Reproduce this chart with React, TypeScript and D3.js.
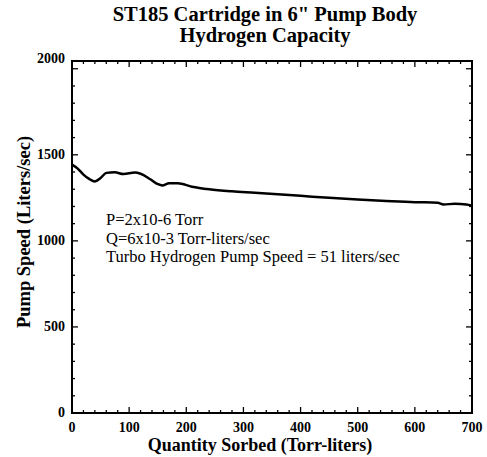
import React, { useEffect, useRef } from 'react';
import * as d3 from 'd3';

// Pump speed curve
const sorbed = [0, 10, 20, 30, 40, 50, 60, 75, 90, 110, 120, 137, 150, 158, 170, 185, 210, 240, 280, 320, 400, 450, 500, 550, 600, 640, 650, 670, 690, 700];
const speed = [1443, 1420, 1385, 1360, 1345, 1365, 1395, 1398, 1388, 1397, 1390, 1358, 1330, 1322, 1335, 1335, 1315, 1300, 1288, 1280, 1262, 1250, 1240, 1232, 1225, 1222, 1212, 1215, 1212, 1205];

const xTicks = [0, 100, 200, 300, 400, 500, 600, 700];
const yTicks = [0, 500, 1000, 1500, 2000];
const titleLines = ['ST185 Cartridge in 6" Pump Body', 'Hydrogen Capacity'];
const notes = ['P=2x10-6 Torr', 'Q=6x10-3 Torr-liters/sec', 'Turbo Hydrogen Pump Speed = 51 liters/sec'];

const W = 487;
const H = 457;
const serif = '"Liberation Serif", "DejaVu Serif", serif';

const App: React.FC = () => {
  const svgRef = useRef<SVGSVGElement>(null);

  useEffect(() => {
    if (!svgRef.current) return;
    const svg = d3.select(svgRef.current);
    svg.selectAll('*').remove();

    const left = 72, right = 472, top = 61, bottom = 413;

    const x = d3.scaleLinear().domain([0, 700]).range([left, right]);
    const y = d3.scaleLinear().domain([0, 2045]).range([bottom, top]);

    svg.append('rect').attr('width', W).attr('height', H).attr('fill', '#fff');

    // title
    svg.append('g').selectAll('text').data(titleLines).join('text')
      .attr('x', 265).attr('y', (_, i) => 21 + i * 21)
      .attr('text-anchor', 'middle')
      .attr('font-family', serif).attr('font-weight', 'bold').attr('font-size', 20.5)
      .text(d => d);

    // minor ticks (inward, on all four sides)
    const xMinor = d3.range(0, 701, 20);
    const yMinor = d3.range(0, 2001, 100);
    const tk = svg.append('g').attr('stroke', '#000').attr('stroke-width', 1.3);
    xMinor.forEach(v => {
      const len = v % 100 === 0 ? 6 : 3;
      tk.append('line').attr('x1', x(v)).attr('x2', x(v)).attr('y1', bottom).attr('y2', bottom - len);
      tk.append('line').attr('x1', x(v)).attr('x2', x(v)).attr('y1', top).attr('y2', top + len);
    });
    yMinor.forEach(v => {
      const len = v % 500 === 0 ? 6 : 3;
      tk.append('line').attr('y1', y(v)).attr('y2', y(v)).attr('x1', left).attr('x2', left + len);
      tk.append('line').attr('y1', y(v)).attr('y2', y(v)).attr('x1', right).attr('x2', right - len);
    });

    // frame
    svg.append('rect')
      .attr('x', left).attr('y', top).attr('width', right - left).attr('height', bottom - top)
      .attr('fill', 'none').attr('stroke', '#000').attr('stroke-width', 2);

    // tick labels
    svg.append('g').selectAll('text').data(xTicks).join('text')
      .attr('x', d => x(d)).attr('y', 432)
      .attr('text-anchor', 'middle')
      .attr('font-family', serif).attr('font-weight', 'bold').attr('font-size', 14)
      .text(d => d);

    svg.append('g').selectAll('text').data(yTicks).join('text')
      .attr('x', 65).attr('y', d => (d === 2000 ? 63 : y(d) + 4))
      .attr('text-anchor', 'end')
      .attr('font-family', serif).attr('font-weight', 'bold').attr('font-size', 14)
      .text(d => d);

    // axis titles
    svg.append('text')
      .attr('x', 260).attr('y', 451)
      .attr('text-anchor', 'middle')
      .attr('font-family', serif).attr('font-weight', 'bold').attr('font-size', 18)
      .text('Quantity Sorbed (Torr-liters)');

    svg.append('text')
      .attr('transform', `translate(30,232) rotate(-90)`)
      .attr('text-anchor', 'middle')
      .attr('font-family', serif).attr('font-weight', 'bold').attr('font-size', 18.5)
      .text('Pump Speed  (Liters/sec)');

    // curve
    const pts = sorbed.map((s, i) => [s, speed[i]] as [number, number]);
    const line = d3.line<[number, number]>()
      .x(d => x(d[0]))
      .y(d => y(d[1]))
      .curve(d3.curveMonotoneX);
    svg.append('path')
      .attr('d', line(pts) as string)
      .attr('fill', 'none').attr('stroke', '#000').attr('stroke-width', 2.5)
      .attr('stroke-linejoin', 'round');

    // notes
    svg.append('g').selectAll('text').data(notes).join('text')
      .attr('x', 106).attr('y', (_, i) => 225 + i * 18.5)
      .attr('font-family', serif).attr('font-size', 16.5)
      .text(d => d);
  }, []);

  return (
    <svg
      ref={svgRef}
      width={W}
      height={H}
      style={{ display: 'block', position: 'absolute', left: 0, top: 0 }}
    />
  );
};

export default App;
